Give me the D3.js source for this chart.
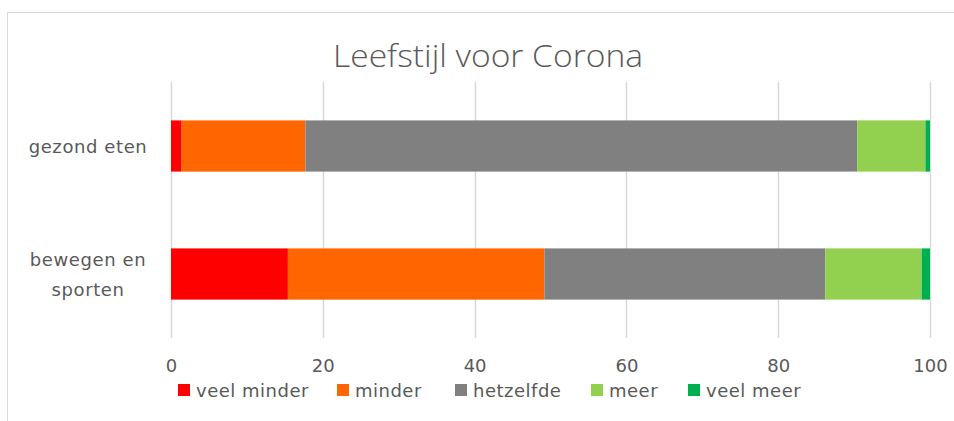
<!DOCTYPE html>
<html lang="nl">
<head>
<meta charset="utf-8">
<title>Leefstijl voor Corona</title>
<script src="https://d3js.org/d3.v7.min.js"></script>
<style>
  body { margin: 0; background: #fff; }
  svg { display: block; }
</style>
</head>
<body>
<svg width="954" height="421"></svg>
<script>

// data (percentages)
var categories = ["gezond eten", "bewegen en sporten"];
var categoryLines = [["gezond eten"], ["bewegen en", "sporten"]];
var seriesNames = ["veel minder", "minder", "hetzelfde", "meer", "veel meer"];
var seriesColors = ["#ff0000", "#ff6600", "#808080", "#92d050", "#00b050"];
var veelMinder = [1.4, 15.4];
var minder = [16.3, 33.8];
var hetzelfde = [72.7, 37.0];
var meer = [9.0, 12.7];
var veelMeer = [0.6, 1.1];
var xTicks = [0, 20, 40, 60, 80, 100];

var svg = d3.select("svg"),
    margin = {top: 82, right: 24, bottom: 83, left: 171},
    w = +svg.attr("width") - margin.left - margin.right,
    h = +svg.attr("height") - margin.top - margin.bottom;

// chart border (runs off the picture right and bottom)
svg.append("rect")
    .attr("x", 7.5).attr("y", 12.5)
    .attr("width", 1000).attr("height", 500)
    .attr("fill", "none")
    .attr("stroke", "#d9d9d9");

var rows = categories.map(function(c, i) {
  return {cat: c, "veel minder": veelMinder[i], "minder": minder[i],
          "hetzelfde": hetzelfde[i], "meer": meer[i], "veel meer": veelMeer[i]};
});
var stacked = d3.stack().keys(seriesNames)(rows);

var xScale = d3.scaleLinear().domain([0, 100]).range([0, w]),
    yScale = d3.scaleBand().domain(categories).range([0, h]).paddingInner(0.6).paddingOuter(0.3);

var g = svg.append("g")
    .attr("transform", "translate(" + margin.left + "," + margin.top + ")");

// title
svg.append("text")
    .attr("x", 488)
    .attr("y", 67)
    .attr("text-anchor", "middle")
    .attr("font-family", "Open Sans, sans-serif")
    .attr("font-weight", 300)
    .attr("font-size", "32px")
    .attr("fill", "#595959")
    .attr("textLength", 310)
    .attr("lengthAdjust", "spacingAndGlyphs")
    .text("Leefstijl voor Corona");

// gridlines
g.append("g")
    .selectAll("line")
    .data(xTicks)
    .enter().append("line")
      .attr("x1", function(d) { return Math.round(xScale(d)) + 0.5; })
      .attr("x2", function(d) { return Math.round(xScale(d)) + 0.5; })
      .attr("y1", 0)
      .attr("y2", h)
      .attr("stroke", "#d9d9d9")
      .attr("stroke-width", 1.5);

// x axis labels
var xAxis = g.append("g")
    .attr("class", "axis x-axis")
    .attr("transform", "translate(0," + h + ")")
    .call(d3.axisBottom(xScale).tickValues(xTicks).tickSize(0).tickPadding(21));
xAxis.select(".domain").remove();
xAxis.selectAll("text")
    .attr("font-family", "DejaVu Sans, sans-serif")
    .attr("font-size", "18px")
    .attr("fill", "#595959");

// category labels
var catG = g.selectAll(".cat")
    .data(categories)
    .enter().append("text")
      .attr("class", "cat")
      .attr("text-anchor", "middle")
      .attr("font-family", "DejaVu Sans, sans-serif")
      .attr("font-size", "18px")
      .attr("letter-spacing", "0.6px")
      .attr("fill", "#595959")
      .attr("transform", function(d) {
        return "translate(" + (-83) + "," + (yScale(d) + yScale.bandwidth() / 2) + ")";
      });
catG.each(function(d, i) {
  var lines = categoryLines[i];
  var el = d3.select(this);
  lines.forEach(function(t, j) {
    el.append("tspan")
      .attr("x", 0)
      .attr("y", (j - (lines.length - 1) / 2) * 30 + 7)
      .text(t);
  });
});

// bars
g.selectAll(".serie")
  .data(stacked)
  .enter().append("g")
    .attr("class", "serie")
    .attr("fill", function(d, i) { return seriesColors[i]; })
  .selectAll("rect")
  .data(function(d) { return d; })
  .enter().append("rect")
    .attr("x", function(d) { return xScale(d[0]); })
    .attr("y", function(d) { return yScale(d.data.cat); })
    .attr("width", function(d) { return xScale(d[1]) - xScale(d[0]); })
    .attr("height", yScale.bandwidth());

// legend
var legendX = [178, 337, 455, 591, 688];
var legend = svg.append("g")
    .selectAll("g")
    .data(seriesNames)
    .enter().append("g")
      .attr("transform", function(d, i) { return "translate(" + legendX[i] + ",384)"; });
legend.append("rect")
    .attr("width", 12).attr("height", 12)
    .attr("fill", function(d, i) { return seriesColors[i]; });
legend.append("text")
    .attr("x", 18)
    .attr("y", 13)
    .attr("font-family", "DejaVu Sans, sans-serif")
    .attr("font-size", "18px")
    .attr("letter-spacing", "0.5px")
    .attr("fill", "#595959")
    .text(function(d) { return d; });

</script>
</body>
</html>
